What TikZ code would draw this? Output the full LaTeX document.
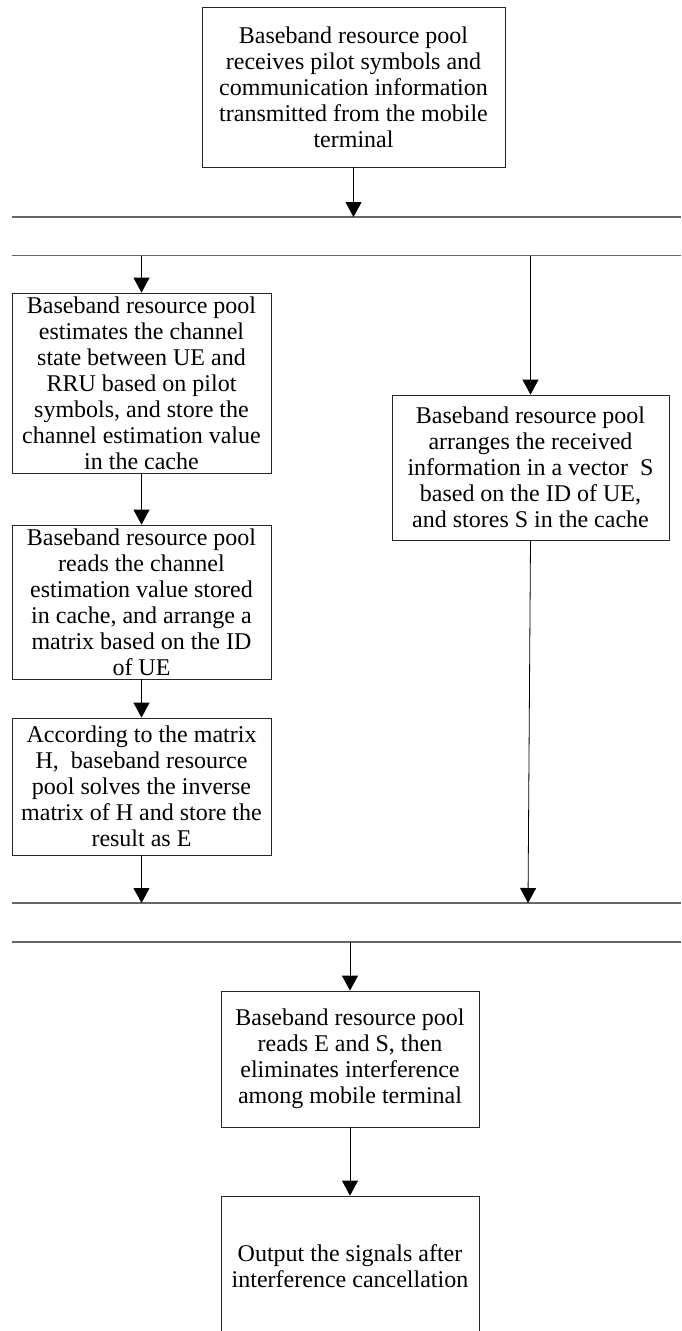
\documentclass[tikz,border=0pt]{standalone}
\usepackage{fontspec}
\setmainfont{Liberation Serif}
\usetikzlibrary{arrows.meta}
\begin{document}
\begin{tikzpicture}[x=1pt,y=1pt,
  stepbox/.style={draw=black!85,line width=0.8pt,inner sep=0pt,align=center,
    font=\fontsize{24}{26}\selectfont},
  arr/.style={draw=black,line width=0.8pt,-{Triangle[width=16pt,length=15pt]}},
  bar/.style={draw=black!60,line width=1.6pt}]
\useasboundingbox (0,0) rectangle (681,-1331);
% boxes
\node[stepbox,minimum width=303pt,minimum height=160pt] (b1) at (353.5,-87)
  {Baseband resource pool\\receives pilot symbols and\\communication information\\transmitted from the mobile\\terminal};
\node[stepbox,minimum width=259pt,minimum height=180pt] (bA) at (141.5,-383)
  {Baseband resource pool\\estimates the channel\\state between UE and\\RRU based on pilot\\symbols, and store the\\channel estimation value\\in the cache};
\node[stepbox,minimum width=259pt,minimum height=154pt] (bB) at (141.5,-602)
  {Baseband resource pool\\reads the channel\\estimation value stored\\in cache, and arrange a\\matrix based on the ID\\of UE};
\node[stepbox,minimum width=259pt,minimum height=137pt] (bC) at (141.5,-786.5)
  {According to the matrix\\H,\ \ baseband resource\\pool solves the inverse\\matrix of H and store the\\result as E};
\node[stepbox,minimum width=277pt,minimum height=145pt] (bD) at (530.5,-467.5)
  {Baseband resource pool\\arranges the received\\information in a vector\ \ S\\based on the ID of UE,\\and stores S in the cache};
\node[stepbox,minimum width=258pt,minimum height=136pt] (bE) at (350,-1059)
  {Baseband resource pool\\reads E and S, then\\eliminates interference\\among mobile terminal};
\node[stepbox,minimum width=258pt,minimum height=140pt] (bF) at (350,-1266)
  {Output the signals after\\interference cancellation};
% bars
\coordinate (bar1L) at (12,-217);   \coordinate (bar1R) at (681,-217);
\coordinate (bar2L) at (12,-255.5); \coordinate (bar2R) at (681,-255.5);
\coordinate (bar3L) at (12,-903);   \coordinate (bar3R) at (681,-903);
\coordinate (bar4L) at (12,-942);   \coordinate (bar4R) at (681,-942);
\draw[bar] (bar1L) -- (bar1R);
\draw[bar] (bar2L) -- (bar2R);
\draw[bar] (bar3L) -- (bar3R);
\draw[bar] (bar4L) -- (bar4R);
% connectors
\draw[arr] (b1.south) -- (b1.south |- bar1L);
\draw[arr] (bA.north |- bar2L) -- (bA.north);
\draw[arr] (bA.south) -- (bB.north);
\draw[arr] (bB.south) -- (bC.north);
\draw[arr] (bC.south) -- (bC.south |- bar3L);
\draw[arr] (bD.north |- bar2L) -- (bD.north);
\coordinate (j2) at (528,-903);
\draw[arr] (bD.south) -- (j2);
\draw[arr] (bE.north |- bar4L) -- (bE.north);
\draw[arr] (bE.south) -- (bF.north);
\end{tikzpicture}
\end{document}
